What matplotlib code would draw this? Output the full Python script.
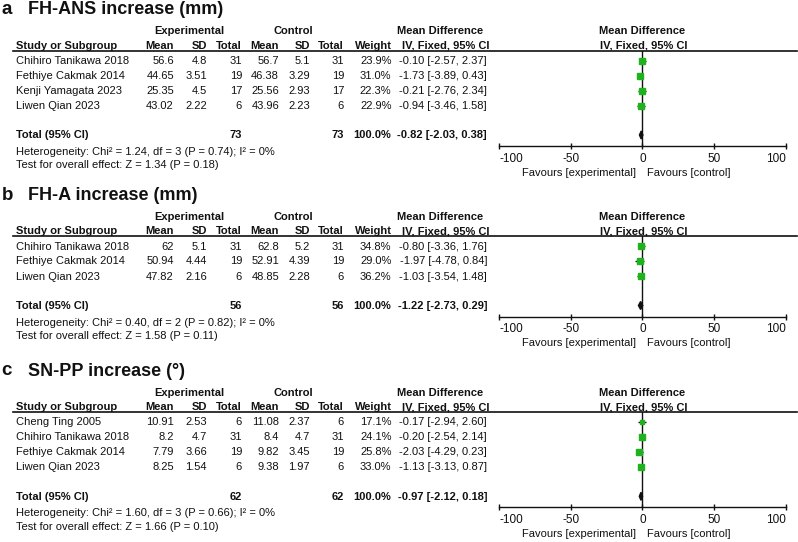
import numpy as np
import matplotlib
matplotlib.use("Agg")
import matplotlib.pyplot as plt

plt.rcParams['font.family'] = ['Liberation Sans', 'DejaVu Sans']

# ---- data: panel a (FH-ANS) ----
a_studies = ["Chihiro Tanikawa 2018", "Fethiye Cakmak 2014", "Kenji Yamagata 2023", "Liwen Qian 2023"]
a_exp_mean = [56.6, 44.65, 25.35, 43.02]
a_exp_sd = [4.8, 3.51, 4.5, 2.22]
a_exp_n = [31, 19, 17, 6]
a_ctl_mean = [56.7, 46.38, 25.56, 43.96]
a_ctl_sd = [5.1, 3.29, 2.93, 2.23]
a_ctl_n = [31, 19, 17, 6]
a_weight = [23.9, 31.0, 22.3, 22.9]
a_md = [-0.10, -1.73, -0.21, -0.94]
a_lo = [-2.57, -3.89, -2.76, -3.46]
a_hi = [2.37, 0.43, 2.34, 1.58]
a_total = [-0.82, -2.03, 0.38]
a_het = "Heterogeneity: Chi² = 1.24, df = 3 (P = 0.74); I² = 0%"
a_test = "Test for overall effect: Z = 1.34 (P = 0.18)"

# ---- data: panel b (FH-A) ----
b_studies = ["Chihiro Tanikawa 2018", "Fethiye Cakmak 2014", "Liwen Qian 2023"]
b_exp_mean = [62, 50.94, 47.82]
b_exp_sd = [5.1, 4.44, 2.16]
b_exp_n = [31, 19, 6]
b_ctl_mean = [62.8, 52.91, 48.85]
b_ctl_sd = [5.2, 4.39, 2.28]
b_ctl_n = [31, 19, 6]
b_weight = [34.8, 29.0, 36.2]
b_md = [-0.80, -1.97, -1.03]
b_lo = [-3.36, -4.78, -3.54]
b_hi = [1.76, 0.84, 1.48]
b_total = [-1.22, -2.73, 0.29]
b_het = "Heterogeneity: Chi² = 0.40, df = 2 (P = 0.82); I² = 0%"
b_test = "Test for overall effect: Z = 1.58 (P = 0.11)"

# ---- data: panel c (SN-PP) ----
c_studies = ["Cheng Ting 2005", "Chihiro Tanikawa 2018", "Fethiye Cakmak 2014", "Liwen Qian 2023"]
c_exp_mean = [10.91, 8.2, 7.79, 8.25]
c_exp_sd = [2.53, 4.7, 3.66, 1.54]
c_exp_n = [6, 31, 19, 6]
c_ctl_mean = [11.08, 8.4, 9.82, 9.38]
c_ctl_sd = [2.37, 4.7, 3.45, 1.97]
c_ctl_n = [6, 31, 19, 6]
c_weight = [17.1, 24.1, 25.8, 33.0]
c_md = [-0.17, -0.20, -2.03, -1.13]
c_lo = [-2.94, -2.54, -4.29, -3.13]
c_hi = [2.60, 2.14, 0.23, 0.87]
c_total = [-0.97, -2.12, 0.18]
c_het = "Heterogeneity: Chi² = 1.60, df = 3 (P = 0.66); I² = 0%"
c_test = "Test for overall effect: Z = 1.66 (P = 0.10)"

total_weight = 100.0
ticks = [-100, -50, 0, 50, 100]

panels = [
    ("a", "FH-ANS increase (mm)", 0.0, a_studies, a_exp_mean, a_exp_sd, a_exp_n, a_ctl_mean, a_ctl_sd,
     a_ctl_n, a_weight, a_md, a_lo, a_hi, a_total, a_het, a_test),
    ("b", "FH-A increase (mm)", 185.5, b_studies, b_exp_mean, b_exp_sd, b_exp_n, b_ctl_mean, b_ctl_sd,
     b_ctl_n, b_weight, b_md, b_lo, b_hi, b_total, b_het, b_test),
    ("c", "SN-PP increase (°)", 361.3, c_studies, c_exp_mean, c_exp_sd, c_exp_n, c_ctl_mean, c_ctl_sd,
     c_ctl_n, c_weight, c_md, c_lo, c_hi, c_total, c_het, c_test),
]

W, H = 798, 542
fig = plt.figure(figsize=(W / 100, H / 100), dpi=100)
bg = fig.add_axes([0, 0, 1, 1])
bg.set_xlim(0, W)
bg.set_ylim(H, 0)
bg.axis("off")

TXT = "#111111"
GREEN = "#1fb21f"
FS = 8

# column right edges (pixels)
col_x = [174, 207, 242, 279, 310, 344, 391.5]
md_x = 487
fx0, fx1 = 499, 785.7  # forest axis -100 .. 100

for (lab, title, off, studies, em, esd, en, cm, csd, cn, wt, md, lo, hi, tot, het, test) in panels:
    n = len(studies)
    bg.text(1.5, off + 14, lab, fontsize=13.5, fontweight="bold", color=TXT, va="baseline")
    bg.text(28, off + 14.5, title, fontsize=13, fontweight="bold", color=TXT, va="baseline")

    # header
    bg.text(189.5, off + 34.5, "Experimental", fontsize=FS, fontweight="bold", color=TXT, ha="center", va="baseline")
    bg.text(293.7, off + 34.5, "Control", fontsize=FS, fontweight="bold", color=TXT, ha="center", va="baseline")
    bg.text(440.5, off + 34.5, "Mean Difference", fontsize=FS, fontweight="bold", color=TXT, ha="center", va="baseline")
    bg.text(641.8, off + 34.5, "Mean Difference", fontsize=FS, fontweight="bold", color=TXT, ha="center", va="baseline")
    hy = off + 49
    bg.text(16, hy, "Study or Subgroup", fontsize=FS, fontweight="bold", color=TXT, va="baseline")
    for x, h in zip(col_x, ["Mean", "SD", "Total", "Mean", "SD", "Total", "Weight"]):
        bg.text(x, hy, h, fontsize=FS, fontweight="bold", color=TXT, ha="right", va="baseline")
    bg.text(446, hy, "IV, Fixed, 95% CI", fontsize=FS, fontweight="bold", color=TXT, ha="center", va="baseline")
    bg.text(643.7, hy, "IV, Fixed, 95% CI", fontsize=FS, fontweight="bold", color=TXT, ha="center", va="baseline")
    rule_y = off + 50.7
    bg.plot([13, 797], [rule_y, rule_y], color=TXT, lw=1.2)

    # rows
    row_y = [off + 60.7 + 15 * i for i in range(n)]
    for i in range(n):
        y = row_y[i] + 3.3
        bg.text(16, y, studies[i], fontsize=FS, color=TXT, va="baseline")
        vals = [f"{em[i]:g}", f"{esd[i]:g}", f"{en[i]}", f"{cm[i]:g}", f"{csd[i]:g}", f"{cn[i]}",
                f"{wt[i]:.1f}%"]
        for x, v in zip(col_x, vals):
            bg.text(x, y, v, fontsize=FS, color=TXT, ha="right", va="baseline")
        bg.text(md_x, y, f"{md[i]:.2f} [{lo[i]:.2f}, {hi[i]:.2f}]", fontsize=FS, color=TXT,
                ha="right", va="baseline")

    tot_y = row_y[-1] + 29.3
    bg.text(16, tot_y + 3.3, "Total (95% CI)", fontsize=FS, fontweight="bold", color=TXT, va="baseline")
    bg.text(col_x[2], tot_y + 3.3, f"{sum(en)}", fontsize=FS, fontweight="bold", color=TXT, ha="right", va="baseline")
    bg.text(col_x[5], tot_y + 3.3, f"{sum(cn)}", fontsize=FS, fontweight="bold", color=TXT, ha="right", va="baseline")
    bg.text(col_x[6], tot_y + 3.3, f"{total_weight:.1f}%", fontsize=FS, fontweight="bold", color=TXT, ha="right",
            va="baseline")
    bg.text(md_x, tot_y + 3.3, f"{tot[0]:.2f} [{tot[1]:.2f}, {tot[2]:.2f}]", fontsize=FS, fontweight="bold",
            color=TXT, ha="right", va="baseline")
    bg.text(16, tot_y + 20, het, fontsize=FS, color=TXT, va="baseline")
    bg.text(16, tot_y + 33.5, test, fontsize=FS, color=TXT, va="baseline")

    # forest plot
    axis_y = tot_y + 11
    ax = fig.add_axes([fx0 / W, 1 - axis_y / H, (fx1 - fx0) / W, (axis_y - rule_y) / H])
    ax.set_xlim(-100, 100)
    ax.set_ylim(axis_y, rule_y)
    ax.patch.set_alpha(0)
    for s in ["top", "left", "right"]:
        ax.spines[s].set_visible(False)
    ax.spines["bottom"].set_color(TXT)
    ax.spines["bottom"].set_linewidth(1.0)
    ax.set_yticks([])
    ax.set_xticks(ticks)
    ax.set_xticklabels([f"{t}" for t in ticks])
    ax.tick_params(axis="x", direction="inout", length=4.5, width=1.0, colors=TXT, labelsize=8.5, pad=2.5)
    labels = ax.get_xticklabels()
    labels[0].set_ha("left")
    labels[-1].set_ha("right")
    ax.axvline(0, color=TXT, lw=1.0, zorder=1)
    ax.hlines(row_y, lo, hi, color=TXT, lw=1.0, zorder=2)
    for i in range(n):
        ax.plot(md[i], row_y[i], "s", color=GREEN, mec=GREEN, ms=0.8 * np.sqrt(wt[i]), zorder=3, clip_on=False)
    ax.fill([tot[1], tot[0], tot[2], tot[0]], [tot_y, tot_y - 4, tot_y, tot_y + 4], color=TXT, zorder=4,
            clip_on=False)

    fav_y = axis_y + 29.5
    bg.text(636, fav_y, "Favours [experimental]", fontsize=FS, color=TXT, ha="right", va="baseline")
    bg.text(647.3, fav_y, "Favours [control]", fontsize=FS, color=TXT, ha="left", va="baseline")

fig.savefig("out.png", dpi=100)
